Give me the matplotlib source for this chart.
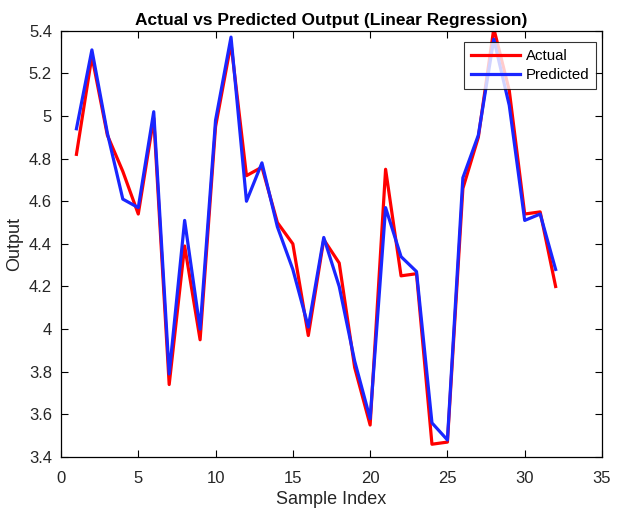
import numpy as np
import matplotlib
matplotlib.use("Agg")
import matplotlib.pyplot as plt
from matplotlib.ticker import FuncFormatter

plt.rcParams['font.family'] = ['Liberation Sans', 'DejaVu Sans']

sample_idx = list(range(1, 33))

actual = [4.82, 5.28, 4.91, 4.74, 4.54, 4.99, 3.74, 4.39, 3.95, 4.95,
          5.34, 4.72, 4.76, 4.50, 4.40, 3.97, 4.42, 4.31, 3.82, 3.55,
          4.75, 4.25, 4.26, 3.46, 3.47, 4.66, 4.90, 5.41, 5.12, 4.54,
          4.55, 4.20]

predicted = [4.94, 5.31, 4.92, 4.61, 4.57, 5.02, 3.79, 4.51, 4.00, 4.98,
             5.37, 4.60, 4.78, 4.48, 4.28, 4.01, 4.43, 4.20, 3.85, 3.58,
             4.57, 4.34, 4.27, 3.56, 3.48, 4.71, 4.91, 5.36, 5.05, 4.51,
             4.54, 4.28]

fig = plt.figure(figsize=(6.21, 5.12), dpi=100)
ax = fig.add_axes([0.0982, 0.1074, 0.8712, 0.8326])

ax.plot(sample_idx, actual, color=(1, 0, 0), lw=2.3, label='Actual')
ax.plot(sample_idx, predicted, color=(0.1, 0.15, 1), lw=2.3, label='Predicted')

ax.set_xlim(0, 35)
ax.set_ylim(3.4, 5.4)
ax.set_xticks(np.arange(0, 36, 5))
ax.set_yticks(np.arange(3.4, 5.41, 0.2))
ax.yaxis.set_major_formatter(FuncFormatter(lambda v, p: '%g' % round(v, 2)))

ax.tick_params(direction='in', length=5, width=0.8, labelsize=12,
               labelcolor='#262626', top=True, right=True)
ax.tick_params(axis='x', pad=10)
ax.tick_params(axis='y', pad=6.5)
for s in ax.spines.values():
    s.set_linewidth(0.9)

ax.set_title('Actual vs Predicted Output (Linear Regression)',
             fontsize=12.5, fontweight='bold', pad=4)
ax.set_xlabel('Sample Index', fontsize=13, color='#262626', labelpad=4)
ax.set_ylabel('Output', fontsize=13, color='#262626', labelpad=4)

leg = ax.legend(loc='upper right', bbox_to_anchor=(0.989, 0.9735),
                borderaxespad=0, fontsize=10.8, frameon=True, fancybox=False,
                edgecolor='black', borderpad=0.45, handlelength=3.3,
                handletextpad=0.35, labelspacing=0.38)
leg.get_frame().set_linewidth(0.8)

fig.savefig('out.png', dpi=100)
